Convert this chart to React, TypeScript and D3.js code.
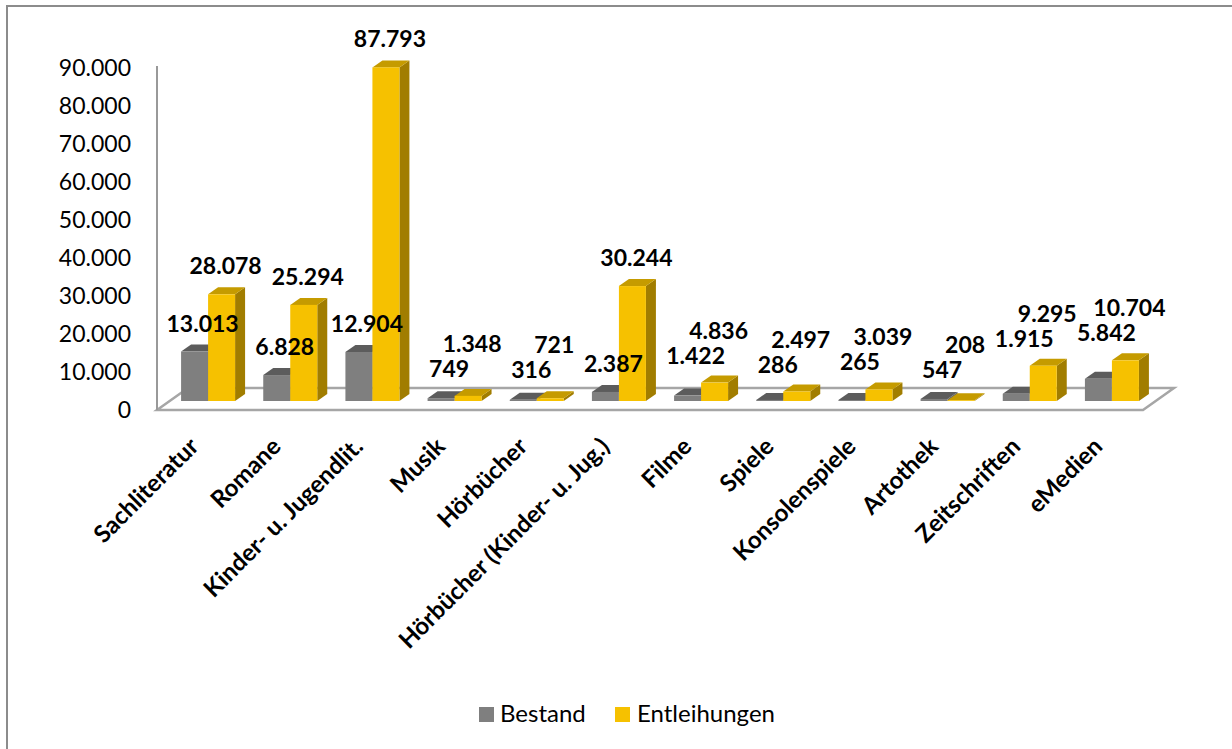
import * as d3 from 'd3';

// chart data
const categories = [
  'Sachliteratur',
  'Romane',
  'Kinder- u. Jugendlit.',
  'Musik',
  'Hörbücher',
  'Hörbücher (Kinder- u. Jug.)',
  'Filme',
  'Spiele',
  'Konsolenspiele',
  'Artothek',
  'Zeitschriften',
  'eMedien',
];
const bestand = [13013, 6828, 12904, 749, 316, 2387, 1422, 286, 265, 547, 1915, 5842];
const entleihungen = [28078, 25294, 87793, 1348, 721, 30244, 4836, 2497, 3039, 208, 9295, 10704];
const seriesNames = ['Bestand', 'Entleihungen'];
const yTicks = [0, 10000, 20000, 30000, 40000, 50000, 60000, 70000, 80000, 90000];

const W = 1232;
const H = 749;
const FONT = 'Lato, "Open Sans", sans-serif';

// faces: front, top, side
const palette = [
  { front: '#7f7f7f', top: '#5c5c5c', side: '#676767' },
  { front: '#f6c100', top: '#c59b00', side: '#a17d00' },
];

const deDe = d3.formatLocale({ decimal: ',', thousands: '.', grouping: [3], currency: ['', ' €'] });
const fmt = deDe.format(',');

// 3d depth offsets
const BAR_DX = 10;
const BAR_DY = -9;
const TOP_DX = 10;
const TOP_DY = -7;
const WALL_DX = 31;
const WALL_DY = -22;

export default function App() {
  const x = d3.scaleBand<string>().domain(categories).range([157, 1143]);
  const inner = d3.scaleBand<string>().domain(seriesNames).range([-27, 27]);
  const y = d3.scaleLinear().domain([0, 90000]).range([410, 68]);

  const series = [bestand, entleihungen];

  const bars = categories.map((c, i) => {
    const cx = (x(c) ?? 0) + x.bandwidth() / 2 + BAR_DX;
    const faces = series.map((vals, s) => {
      const x0 = cx + (inner(seriesNames[s]) ?? 0);
      const w = inner.bandwidth();
      const yb = y(0) + BAR_DY;
      const yt = y(vals[i]) + BAR_DY;
      return { x0, w, yb, yt, s, v: vals[i] };
    });
    // label placement: above the bar, nudged so the two labels don't collide
    const gt = faces[0].yt;
    const yt = faces[1].yt;
    let gLab = gt - 20;
    if (gt - yt < 40) gLab = Math.min(gLab, yt - 19);
    gLab = Math.min(gLab, 378);
    const yLab = Math.min(yt - 20, gLab - 25);
    return { c, faces, labY: [gLab, yLab] };
  });

  const floor = [
    [x.range()[0], y(0)],
    [x.range()[1], y(0)],
    [x.range()[1] + WALL_DX, y(0) + WALL_DY],
    [x.range()[0] + WALL_DX, y(0) + WALL_DY],
  ];

  return (
    <svg
      width={W}
      height={H}
      style={{ position: 'absolute', left: 0, top: 0, background: '#fff' }}
      fontFamily={FONT}
    >
      <rect x={7} y={6} width={W + 20} height={H + 20} fill="#fff" stroke="#8c8c8c" strokeWidth={2} />

      {/* floor */}
      <polygon points={floor.map(p => p.join(',')).join(' ')} fill="#fff" stroke="#a6a6a6" strokeWidth={2.5} />
      {/* value axis */}
      <line x1={x.range()[0]} x2={x.range()[0]} y1={y(90000) - 2} y2={y(0)} stroke="#999" strokeWidth={2} />

      {yTicks.map(t => (
        <text key={t} x={131} y={y(t)} dy="0.35em" textAnchor="end" fontSize={23} fill="#000">
          {fmt(t)}
        </text>
      ))}

      {bars.map(b => (
        <g key={b.c}>
          {b.faces.map(f => {
            const p = palette[f.s];
            const top = `${f.x0},${f.yt} ${f.x0 + f.w},${f.yt} ${f.x0 + f.w + TOP_DX},${f.yt + TOP_DY} ${f.x0 + TOP_DX},${f.yt + TOP_DY}`;
            const side = `${f.x0 + f.w},${f.yt} ${f.x0 + f.w + TOP_DX},${f.yt + TOP_DY} ${f.x0 + f.w + TOP_DX},${f.yb + TOP_DY} ${f.x0 + f.w},${f.yb}`;
            return (
              <g key={f.s}>
                <polygon points={side} fill={p.side} />
                <polygon points={top} fill={p.top} />
                <rect x={f.x0} y={f.yt} width={f.w} height={Math.max(0, f.yb - f.yt)} fill={p.front} />
              </g>
            );
          })}
        </g>
      ))}

      {bars.map(b =>
        b.faces.map(f => (
          <text
            key={b.c + f.s}
            x={f.x0 + f.w / 2 + (f.s === 0 ? 8 : 4)}
            y={b.labY[f.s]}
            textAnchor="middle"
            fontSize={23}
            fontWeight="bold"
            fill="#000"
          >
            {fmt(f.v)}
          </text>
        ))
      )}

      {categories.map(c => {
        const ax = (x(c) ?? 0) + x.bandwidth() / 2 + 2;
        const ay = y(0) + 38;
        return (
          <text
            key={c}
            transform={`translate(${ax},${ay}) rotate(-45)`}
            textAnchor="end"
            fontSize={24}
            fontWeight="bold"
            fill="#000"
          >
            {c}
          </text>
        );
      })}

      {/* legend */}
      <g fontSize={24}>
        <rect x={479} y={707} width={15} height={15} fill={palette[0].front} />
        <text x={500} y={722} fill="#000">
          {seriesNames[0]}
        </text>
        <rect x={615} y={707} width={15} height={15} fill={palette[1].front} />
        <text x={637} y={722} fill="#000">
          {seriesNames[1]}
        </text>
      </g>
    </svg>
  );
}
